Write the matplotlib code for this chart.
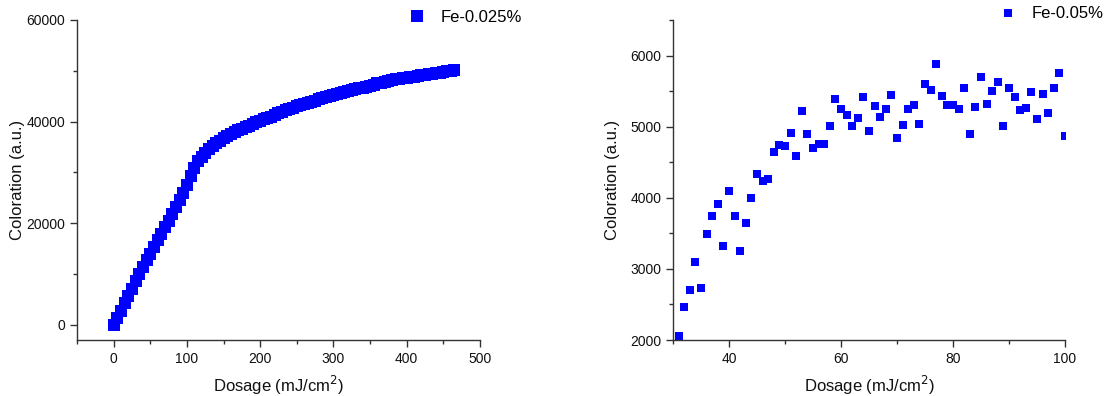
import matplotlib
matplotlib.use("Agg")
import matplotlib.pyplot as plt
from matplotlib.ticker import MultipleLocator

plt.rcParams['font.family'] = ['Liberation Sans', 'DejaVu Sans']

# Fe-0.025% : coloration vs dosage, full range
dose_a = list(range(0, 470, 5))
color_a = [0, 1300, 2800, 4200, 5700, 7100, 8600, 10000, 11400, 12700,
           14000, 15300, 16600, 17900, 19200, 20500, 21800, 23100, 24500, 26000,
           27600, 29300, 30900, 32200, 33000, 33900, 34600, 35200, 35700, 36200,
           36700, 37100, 37500, 37900, 38300, 38600, 38900, 39200, 39600, 39900,
           40200, 40500, 40800, 41000, 41300, 41600, 41900, 42200, 42400, 42700,
           43000, 43200, 43500, 43700, 43900, 44100, 44400, 44600, 44900, 45100,
           45300, 45500, 45700, 45900, 46000, 46200, 46400, 46600, 46700, 46900,
           47100, 47300, 47500, 47600, 47700, 47900, 48100, 48300, 48400, 48500,
           48600, 48700, 48800, 49000, 49100, 49200, 49300, 49400, 49500, 49600,
           49800, 49900, 50000, 50200]

# Fe-0.05% : coloration vs dosage, 31..100 mJ/cm2
dose_b = list(range(31, 101))
color_b = [2050, 2460, 2700, 3100, 2730, 3490, 3745, 3910, 3320, 4090,
           3745, 3250, 3650, 3990, 4340, 4235, 4270, 4640, 4745, 4725,
           4915, 4590, 5225, 4900, 4700, 4755, 4760, 5005, 5395, 5250,
           5170, 5005, 5115, 5415, 4935, 5285, 5130, 5250, 5445, 4840,
           5030, 5245, 5310, 5040, 5605, 5520, 5885, 5435, 5310, 5300,
           5250, 5540, 4890, 5270, 5695, 5320, 5500, 5625, 5015, 5540,
           5420, 5235, 5265, 5485, 5110, 5455, 5190, 5545, 5750, 4865]

blue = '#0000ff'

fig = plt.figure(figsize=(11.04, 3.96), dpi=100)
ax1 = fig.add_axes([0.0697, 0.1414, 0.3651, 0.8081])
ax2 = fig.add_axes([0.6096, 0.1414, 0.3551, 0.8081])

ax1.plot(dose_a, color_a, 's', color=blue, ms=8, mew=0, label='Fe-0.025%')
ax1.set_xlim(-50, 500)
ax1.set_ylim(-3000, 60000)
ax1.xaxis.set_major_locator(MultipleLocator(100))
ax1.xaxis.set_minor_locator(MultipleLocator(50))
ax1.yaxis.set_major_locator(MultipleLocator(20000))
ax1.yaxis.set_minor_locator(MultipleLocator(10000))

ax2.plot(dose_b, color_b, 's', color=blue, ms=6, mew=0, label='Fe-0.05%')
ax2.set_xlim(30, 100)
ax2.set_ylim(2000, 6500)
ax2.xaxis.set_major_locator(MultipleLocator(20))
ax2.xaxis.set_minor_locator(MultipleLocator(10))
ax2.yaxis.set_major_locator(MultipleLocator(1000))
ax2.yaxis.set_minor_locator(MultipleLocator(500))

for ax in (ax1, ax2):
    for s in ('top', 'right'):
        ax.spines[s].set_visible(False)
    for s in ('left', 'bottom'):
        ax.spines[s].set_color('#333333')
        ax.spines[s].set_linewidth(1.0)
    ax.tick_params(which='major', direction='out', length=5, width=1,
                   color='#333333', labelsize=10, labelcolor='#111111')
    ax.tick_params(which='minor', direction='out', length=3, width=1,
                   color='#333333')
    ax.set_xlabel('Dosage (mJ/cm$^2$)', fontsize=12, color='#111111')
    ax.set_ylabel('Coloration (a.u.)', fontsize=12, color='#111111')

ax1.yaxis.set_label_coords(-0.128, 0.5)
ax2.yaxis.set_label_coords(-0.135, 0.5)
ax1.xaxis.set_label_coords(0.5, -0.105)
ax2.xaxis.set_label_coords(0.5, -0.105)

ax1.legend(loc='center left', bbox_to_anchor=(0.370, 0.955),
           bbox_transform=fig.transFigure, frameon=False, fontsize=12,
           handlelength=1.0, handletextpad=0.9, borderpad=0, borderaxespad=0)
ax2.legend(loc='center left', bbox_to_anchor=(0.9055, 0.965),
           bbox_transform=fig.transFigure, frameon=False, fontsize=12,
           handlelength=1.0, handletextpad=0.9, borderpad=0, borderaxespad=0)

fig.savefig('out.png', dpi=100)
